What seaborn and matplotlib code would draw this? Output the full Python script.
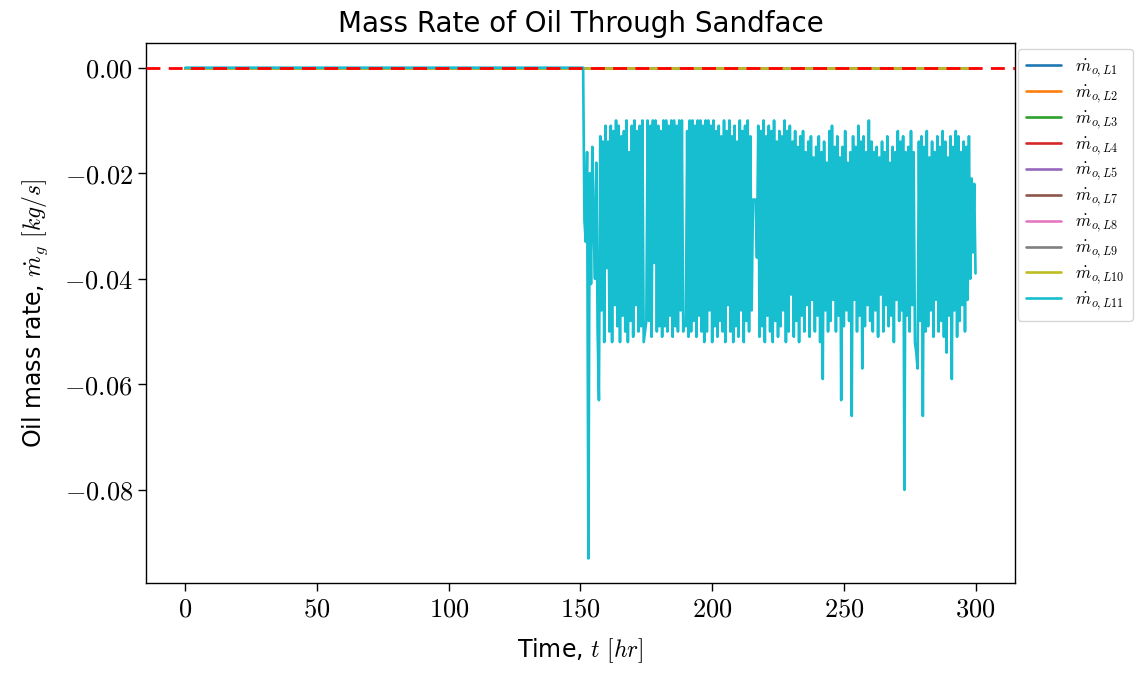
import numpy as np
import pandas as pd
import matplotlib
matplotlib.use("Agg")
import matplotlib.pyplot as plt
from matplotlib.ticker import FuncFormatter
import seaborn as sns

# ---- data ----
series_names = ["L1", "L2", "L3", "L4", "L5", "L7", "L8", "L9", "L10", "L11"]
time_hr = np.arange(0, 300.5, 0.5)  # half-hourly time grid, 0..300 hr

# L11 oil mass rate from t = 151.5 hr to 300 hr (zero before)
l11_late = [
    -0.029, -0.033, -0.016, -0.093, -0.020, -0.041, -0.015, -0.030, -0.040, -0.018,
    -0.050, -0.063, -0.013, -0.046, -0.014, -0.052, -0.011, -0.038, -0.014, -0.050,
    -0.011, -0.052, -0.012, -0.045, -0.010, -0.049, -0.011, -0.052, -0.013, -0.047,
    -0.012, -0.050, -0.010, -0.052, -0.016, -0.048, -0.011, -0.051, -0.010, -0.045,
    -0.012, -0.050, -0.011, -0.049, -0.010, -0.052, -0.050, -0.048, -0.010, -0.048,
    -0.011, -0.051, -0.010, -0.037, -0.010, -0.050, -0.011, -0.049, -0.012, -0.051,
    -0.010, -0.049, -0.010, -0.050, -0.011, -0.047, -0.010, -0.051, -0.010, -0.049,
    -0.011, -0.050, -0.010, -0.046, -0.010, -0.050, -0.048, -0.049, -0.012, -0.051,
    -0.010, -0.050, -0.010, -0.048, -0.011, -0.051, -0.010, -0.047, -0.010, -0.050,
    -0.011, -0.052, -0.010, -0.050, -0.010, -0.046, -0.011, -0.052, -0.010, -0.049,
    -0.012, -0.051, -0.011, -0.048, -0.013, -0.050, -0.010, -0.052, -0.012, -0.045,
    -0.010, -0.050, -0.013, -0.052, -0.011, -0.049, -0.014, -0.051, -0.010, -0.046,
    -0.012, -0.052, -0.011, -0.048, -0.010, -0.050, -0.013, -0.046, -0.025, -0.025,
    -0.025, -0.036, -0.011, -0.051, -0.012, -0.049, -0.010, -0.052, -0.013, -0.047,
    -0.011, -0.050, -0.012, -0.052, -0.010, -0.048, -0.014, -0.051, -0.012, -0.049,
    -0.013, -0.046, -0.010, -0.052, -0.012, -0.050, -0.011, -0.043, -0.014, -0.051,
    -0.012, -0.048, -0.015, -0.052, -0.013, -0.047, -0.012, -0.050, -0.016, -0.045,
    -0.014, -0.051, -0.013, -0.044, -0.017, -0.050, -0.015, -0.047, -0.013, -0.052,
    -0.016, -0.059, -0.014, -0.046, -0.018, -0.050, -0.012, -0.048, -0.011, -0.044,
    -0.015, -0.050, -0.013, -0.047, -0.017, -0.063, -0.015, -0.049, -0.012, -0.046,
    -0.018, -0.048, -0.016, -0.066, -0.013, -0.044, -0.015, -0.050, -0.011, -0.047,
    -0.014, -0.057, -0.013, -0.049, -0.016, -0.045, -0.010, -0.048, -0.014, -0.050,
    -0.016, -0.046, -0.015, -0.051, -0.017, -0.043, -0.014, -0.050, -0.016, -0.045,
    -0.013, -0.049, -0.018, -0.047, -0.015, -0.052, -0.016, -0.044, -0.012, -0.048,
    -0.014, -0.046, -0.013, -0.080, -0.016, -0.047, -0.015, -0.050, -0.012, -0.045,
    -0.016, -0.052, -0.054, -0.057, -0.014, -0.048, -0.013, -0.066, -0.015, -0.050,
    -0.012, -0.049, -0.017, -0.046, -0.014, -0.051, -0.016, -0.044, -0.013, -0.050,
    -0.015, -0.048, -0.012, -0.051, -0.014, -0.054, -0.017, -0.047, -0.013, -0.059,
    -0.015, -0.046, -0.012, -0.051, -0.013, -0.048, -0.016, -0.045, -0.014, -0.050,
    -0.015, -0.044, -0.013, -0.040, -0.021, -0.035, -0.022, -0.039,
]
l11_early = [0.0] * (len(time_hr) - len(l11_late))  # t = 0..151 hr
l11_values = l11_early + l11_late
zero_values = [0.0] * len(time_hr)  # L1..L10 stay at zero

legend_labels = [r"$\dot{m}_{o,%s}$" % n for n in series_names]

# ---- build long-form table ----
frames = []
for name, lab in zip(series_names, legend_labels):
    vals = l11_values if name == "L11" else zero_values
    frames.append(pd.DataFrame({"t": time_hr, "m": vals, "series": lab}))
df = pd.concat(frames, ignore_index=True)

# ---- style ----
sns.set_theme(style="ticks")
plt.rcParams["font.family"] = ["DejaVu Sans"]
plt.rcParams["mathtext.fontset"] = "cm"
for key in ["text.color", "axes.labelcolor", "xtick.color", "ytick.color", "axes.edgecolor"]:
    plt.rcParams[key] = "black"

fig = plt.figure(figsize=(11.36, 6.74), dpi=100)
ax = fig.add_axes([0.1285, 0.135, 0.765, 0.801])

palette = sns.color_palette("tab10", len(series_names))
sns.lineplot(data=df, x="t", y="m", hue="series", hue_order=legend_labels,
             palette=palette, estimator=None, sort=False, linewidth=1.9, ax=ax)

ax.axhline(0.0, color="red", linestyle="--", linewidth=2.0, dashes=(5, 3), zorder=5)

ax.set_title("Mass Rate of Oil Through Sandface", fontsize=20, pad=8)
ax.set_xlabel(r"Time, $t$ $[hr]$", fontsize=17, labelpad=10)
ax.set_ylabel(r"Oil mass rate, $\dot{m}_g$ $[kg/s]$", fontsize=17, labelpad=10)

ax.set_xticks([0, 50, 100, 150, 200, 250, 300])
ax.set_yticks([0.0, -0.02, -0.04, -0.06, -0.08])
ax.xaxis.set_major_formatter(FuncFormatter(lambda v, p: r"$%d$" % v))
ax.yaxis.set_major_formatter(FuncFormatter(lambda v, p: r"$%.2f$" % v))
ax.tick_params(axis="both", labelsize=19, length=6, width=1.0, direction="out")
for s in ax.spines.values():
    s.set_linewidth(1.0)
    s.set_color("black")

ax.legend(loc="upper left", bbox_to_anchor=(1.003, 0.99), fontsize=12.5,
          frameon=True, borderaxespad=0.0, handlelength=2.0, labelspacing=0.25,
          borderpad=0.5)

fig.savefig("out.png", dpi=100)
